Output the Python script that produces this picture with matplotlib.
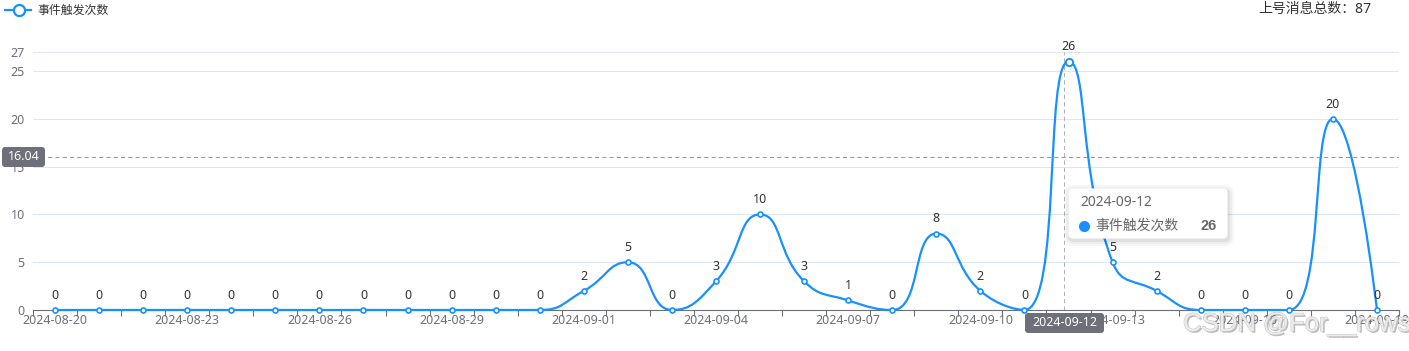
import numpy as np
import pandas as pd
import matplotlib.pyplot as plt
import matplotlib.patheffects as pe
from matplotlib.path import Path
from matplotlib.patches import PathPatch, FancyBboxPatch
from matplotlib.lines import Line2D
from matplotlib.transforms import Affine2D

plt.rcParams['font.family'] = ['Noto Sans', 'Noto Sans CJK SC', 'DejaVu Sans']

# data
dates = [d.strftime('%Y-%m-%d') for d in pd.date_range('2024-08-20', '2024-09-19')]
counts = [0, 0, 0, 0, 0, 0, 0, 0, 0, 0, 0, 0,
          2, 5, 0, 3, 10, 3, 1, 0, 8, 2, 0, 26, 5, 2, 0, 0, 0, 20, 0]
series_name = '事件触发次数'
total_label = '上号消息总数：87'
y_ticks = [0, 5, 10, 15, 20, 25, 27]
hover_idx = 23
hover_y = 16.04

W, H = 1409, 351
BLUE = '#1890FF'
AXIS = '#6E7079'
FS = 9


def smooth_path(xs, ys, sx, sy, smooth=0.5):
    # echarts style smooth line (control points clamped between neighbours)
    pts = [(x * sx, y * sy) for x, y in zip(xs, ys)]
    verts = [pts[0]]
    codes = [Path.MOVETO]
    cp0 = pts[0]
    n = len(pts)
    for i in range(1, n):
        x, y = pts[i]
        px, py = pts[i - 1]
        if i == n - 1:
            cp1 = (x, y)
            ncp = None
        else:
            nx, ny = pts[i + 1]
            vx, vy = nx - px, ny - py
            lp = np.hypot(x - px, y - py)
            ln = np.hypot(nx - x, ny - y)
            r = ln / (ln + lp)
            ncx = x + vx * smooth * r
            ncy = y + vy * smooth * r
            ncx = max(min(ncx, max(nx, x)), min(nx, x))
            ncy = max(min(ncy, max(ny, y)), min(ny, y))
            vx, vy = ncx - x, ncy - y
            c1x = x - vx * lp / ln
            c1y = y - vy * lp / ln
            c1x = max(min(c1x, max(px, x)), min(px, x))
            c1y = max(min(c1y, max(py, y)), min(py, y))
            vx, vy = x - c1x, y - c1y
            ncp = (x + vx * ln / lp, y + vy * ln / lp)
            cp1 = (c1x, c1y)
        verts += [cp0, cp1, (x, y)]
        codes += [Path.CURVE4] * 3
        cp0 = ncp
    verts = [(vx / sx, vy / sy) for vx, vy in verts]
    return Path(verts, codes)


fig = plt.figure(figsize=(W / 100, H / 100), dpi=100)
pxt = Affine2D().scale(1 / W, -1 / H).translate(0, 1) + fig.transFigure

ax = fig.add_axes([33 / W, 1 - 310 / H, 1366 / W, 258 / H])
xs = np.arange(len(counts))
ax.set_xlim(-0.5, len(counts) - 0.5)
ax.set_ylim(0, 27)

for s in ['top', 'right', 'left']:
    ax.spines[s].set_visible(False)
ax.spines['bottom'].set_color(AXIS)
ax.spines['bottom'].set_linewidth(0.8)

ax.set_yticks(y_ticks)
ax.tick_params(axis='y', length=0, pad=6, labelsize=FS, labelcolor=AXIS)
ax.yaxis.grid(True, color='#E0E6F1', lw=0.75)
ax.set_axisbelow(True)

ax.set_xticks(np.arange(-0.5, len(counts), 1))
ax.set_xticklabels([])
ax.tick_params(axis='x', which='major', length=4, width=0.8, color=AXIS)
ax.set_xticks(xs[::3], minor=True)
ax.set_xticklabels(dates[::3], minor=True)
ax.tick_params(axis='x', which='minor', length=0, pad=3, labelsize=FS, labelcolor=AXIS)

# axis pointer
ax.axvline(hover_idx - 0.1, color='#B0B3BA', lw=0.75, ls=(0, (4, 3)), zorder=1)
ax.axhline(hover_y, color='#999999', lw=0.75, ls=(0, (4, 3)), zorder=1)

# line
path = smooth_path(xs, counts, 44.06, 9.556)
ax.add_patch(PathPatch(path, fill=False, edgecolor=BLUE, lw=1.6, zorder=3, clip_on=False))
ax.plot(xs, counts, ls='none', marker='o', ms=3.6, mfc='white', mec=BLUE, mew=1.2, zorder=4, clip_on=False)
ax.plot([hover_idx], [counts[hover_idx]], ls='none', marker='o', ms=5.2, mfc='white', mec=BLUE, mew=1.4, zorder=5, clip_on=False)

for i, v in enumerate(counts):
    ax.annotate(str(v), (i, v), xytext=(0, 10.5), textcoords='offset points',
                ha='center', va='center', fontsize=FS, color='#333333', zorder=6)

# legend and total
fig.add_artist(Line2D([5, 31], [10, 10], transform=pxt, color=BLUE, lw=1.6))
fig.add_artist(Line2D([19], [10], transform=pxt, marker='o', ms=8, mfc='white', mec=BLUE, mew=1.6))
fig.text(37, 10, series_name, transform=pxt, fontsize=8.6, color='#333333', va='center', ha='left')
fig.text(1371, 9, total_label, transform=pxt, fontsize=10, color='#333333', va='center', ha='right')

# axis pointer labels
for (x0, y0, w, h, txt) in [(2, 147, 43, 20, '16.04'), (1025, 313, 79, 20, dates[hover_idx])]:
    fig.add_artist(FancyBboxPatch((x0, y0), w, h, boxstyle='round,pad=0,rounding_size=3',
                                  transform=pxt, fc=AXIS, ec='none', zorder=10))
    fig.text(x0 + w / 2, y0 + h / 2, txt, transform=pxt, fontsize=FS, color='white',
             ha='center', va='center', zorder=11)

# tooltip
tx, ty, tw, th = 1069, 189, 158, 49
for k, a in [(6, 0.03), (4, 0.04), (2, 0.06)]:
    fig.add_artist(FancyBboxPatch((tx - k + 1, ty - k + 2), tw + 2 * k, th + 2 * k,
                                  boxstyle='round,pad=0,rounding_size=%d' % (4 + k),
                                  transform=pxt, fc='black', ec='none', alpha=a, zorder=10))
fig.add_artist(FancyBboxPatch((tx, ty), tw, th, boxstyle='round,pad=0,rounding_size=4',
                              transform=pxt, fc='white', ec='white', lw=0.8, zorder=11))
fig.text(1080, 202, dates[hover_idx], transform=pxt, fontsize=10, color='#666666',
         va='center', ha='left', zorder=12)
fig.add_artist(Line2D([1084], [226], transform=pxt, marker='o', ms=7, mfc=BLUE, mec=BLUE, zorder=12))
fig.text(1095, 226, series_name, transform=pxt, fontsize=10, color='#666666',
         va='center', ha='left', zorder=12)
fig.text(1217, 226, str(counts[hover_idx]), transform=pxt, fontsize=10.5, color='#666666',
         fontweight='bold', family=['Liberation Sans', 'DejaVu Sans'],
         va='center', ha='right', zorder=12)

# watermark
fig.text(1183, 324, 'CSDN @For__rows', transform=pxt, fontsize=18.5, color='#ececec',
         va='center', ha='left', family=['Liberation Sans', 'DejaVu Sans'], zorder=20,
         path_effects=[pe.SimplePatchShadow(offset=(1.2, -1.2), shadow_rgbFace='#777777', alpha=0.5),
                       pe.withStroke(linewidth=0.8, foreground='#c8c8c8')])

fig.savefig('out.png', dpi=100)
